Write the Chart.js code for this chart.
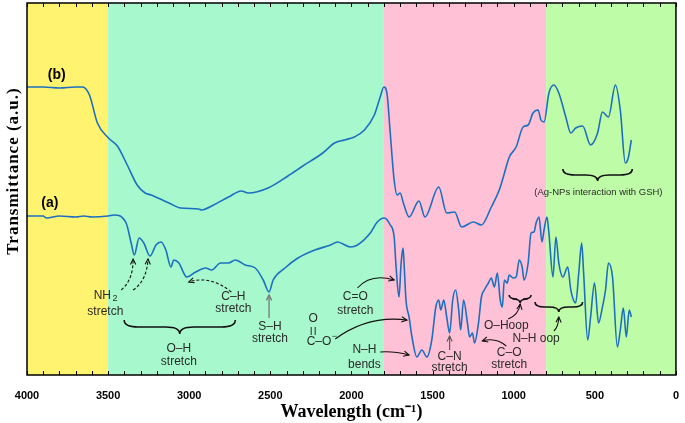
<!DOCTYPE html>
<html>
<head>
<meta charset="utf-8">
<script src="https://cdn.jsdelivr.net/npm/chart.js@4.4.1/dist/chart.umd.min.js"></script>
<style>
  html, body { margin: 0; padding: 0; background: #fff; }
  #wrap { width: 685px; height: 423px; }
</style>
</head>
<body>
<div id="wrap"><canvas id="ftir"></canvas></div>
<script>
// spectrum (b): GSH-capped Ag-NPs
const waveB = [4000, 3900, 3800, 3700, 3658, 3615, 3566, 3498, 3443, 3382, 3321, 3272, 3235, 3125, 3052, 2942, 2924, 2850, 2758, 2679, 2636, 2514, 2392, 2300, 2177, 2104, 2043, 1982, 1920, 1859, 1823, 1800, 1780, 1761, 1737, 1718, 1700, 1680, 1645, 1584, 1547, 1462, 1413, 1364, 1321, 1248, 1199, 1138, 1089, 1064, 1027, 985, 942, 911, 881, 850, 832, 813, 783, 752, 722, 679, 648, 618, 575, 526, 483, 453, 416, 373, 343, 312, 294, 275];
const transB = [288, 288, 287, 288, 288, 280, 252, 237, 229, 210, 190, 182, 180, 172, 167, 166, 165, 170, 178, 184, 182, 187, 199, 209, 222, 232, 235, 238, 245, 260, 278, 288, 280, 242, 195, 180, 182, 172, 158, 174, 158, 188, 162, 163, 148, 153, 150, 168, 185, 198, 218, 228, 248, 250, 262, 265, 255, 253, 282, 290, 282, 258, 242, 247, 249, 230, 242, 263, 258, 290, 265, 212, 217, 235];

// spectrum (a): GSH
const waveA = [4000, 3900, 3880, 3800, 3700, 3650, 3600, 3500, 3462, 3389, 3358, 3339, 3309, 3280, 3242, 3205, 3174, 3144, 3113, 3095, 3064, 3015, 2960, 2899, 2862, 2807, 2758, 2716, 2655, 2593, 2544, 2508, 2483, 2410, 2330, 2226, 2128, 2086, 2006, 1963, 1884, 1841, 1798, 1761, 1737, 1725, 1707, 1694, 1682, 1676, 1664, 1645, 1627, 1597, 1566, 1535, 1505, 1480, 1462, 1450, 1431, 1413, 1395, 1376, 1358, 1339, 1327, 1309, 1285, 1272, 1254, 1242, 1217, 1199, 1181, 1156, 1138, 1119, 1101, 1083, 1070, 1058, 1040, 1028, 1003, 985, 966, 948, 936, 911, 893, 875, 862, 844, 826, 813, 795, 783, 758, 740, 722, 697, 667, 648, 618, 599, 581, 569, 544, 526, 502, 477, 453, 434, 416, 391, 361, 343, 324, 306, 288, 275];
const transA = [159, 159, 157, 159, 158, 159, 158, 159, 160, 152, 132, 120, 137, 132, 119, 130, 133, 125, 108, 115, 112, 98, 103, 107, 105, 112, 112, 115, 110, 107, 95, 83, 95, 107, 117, 125, 130, 133, 128, 130, 142, 153, 157, 150, 138, 108, 78, 112, 127, 112, 75, 58, 38, 18, 25, 18, 35, 68, 75, 65, 75, 58, 42, 75, 85, 65, 45, 75, 52, 38, 42, 32, 52, 78, 85, 92, 97, 88, 102, 75, 68, 95, 92, 100, 97, 98, 115, 108, 95, 112, 142, 143, 152, 158, 133, 145, 158, 142, 98, 138, 112, 98, 108, 85, 72, 102, 132, 102, 35, 58, 92, 52, 68, 85, 112, 98, 28, 45, 67, 38, 65, 58];

// shaded spectral regions (cm-1)
const bandEdges = [4000, 3500, 1800, 800, 0];
const bandColors = ['#fff36f', '#a7f8cd', '#ffc1d5', '#bffca7'];

const xTicks = [4000, 3500, 3000, 2500, 2000, 1500, 1000, 500, 0];

const toXY = (w, t) => w.map((v, i) => ({ x: v, y: t[i] }));

const font = '"Liberation Sans", Arial, sans-serif';
const serif = '"Liberation Serif", "Times New Roman", serif';
const ink = '#2a2a2a';

function arrow(ctx, x1, y1, x2, y2, cx, cy, opts = {}) {
  ctx.save();
  ctx.strokeStyle = opts.color || '#111';
  ctx.lineWidth = opts.width || 1.1;
  if (opts.dash) ctx.setLineDash(opts.dash);
  ctx.beginPath();
  ctx.moveTo(x1, y1);
  ctx.quadraticCurveTo(cx, cy, x2, y2);
  ctx.stroke();
  ctx.setLineDash([]);
  const a = Math.atan2(y2 - cy, x2 - cx);
  const h = 6;
  ctx.beginPath();
  ctx.moveTo(x2 - h * Math.cos(a - 0.45), y2 - h * Math.sin(a - 0.45));
  ctx.lineTo(x2, y2);
  ctx.lineTo(x2 - h * Math.cos(a + 0.45), y2 - h * Math.sin(a + 0.45));
  ctx.stroke();
  ctx.restore();
}

function brace(ctx, x1, x2, y, d) {
  // horizontal curly brace, tip pointing down by d
  const m = (x1 + x2) / 2, q = d / 2;
  ctx.save();
  ctx.strokeStyle = '#111';
  ctx.lineWidth = 1.6;
  ctx.beginPath();
  ctx.moveTo(x1, y - q);
  ctx.quadraticCurveTo(x1, y, x1 + q * 2, y);
  ctx.lineTo(m - q * 2, y);
  ctx.quadraticCurveTo(m, y, m, y + q);
  ctx.quadraticCurveTo(m, y, m + q * 2, y);
  ctx.lineTo(x2 - q * 2, y);
  ctx.quadraticCurveTo(x2, y, x2, y - q);
  ctx.stroke();
  ctx.restore();
}

function label(ctx, txt, x, y, size, bold) {
  ctx.font = (bold ? 'bold ' : '') + size + 'px ' + font;
  ctx.fillText(txt, x, y);
}

const backdrop = {
  id: 'backdrop',
  beforeDatasetsDraw(chart) {
    const { ctx, chartArea: a, scales: { x } } = chart;
    ctx.save();
    for (let i = 0; i < bandColors.length; i++) {
      const p1 = x.getPixelForValue(bandEdges[i]);
      const p2 = x.getPixelForValue(bandEdges[i + 1]);
      ctx.fillStyle = bandColors[i];
      ctx.fillRect(p1, a.top, p2 - p1, a.bottom - a.top);
    }
    ctx.restore();
  },
  afterDatasetsDraw(chart) {
    const { ctx, chartArea: a, scales: { x, y } } = chart;
    const X = v => x.getPixelForValue(v), Y = v => y.getPixelForValue(v);
    ctx.save();
    // frame and inward ticks
    ctx.strokeStyle = '#000';
    ctx.lineWidth = 1.5;
    ctx.strokeRect(a.left, a.top, a.right - a.left, a.bottom - a.top);
    ctx.lineWidth = 1;
    ctx.beginPath();
    for (let w = 0; w <= 4000; w += 100) {
      const px = Math.round(X(w)) + 0.5;
      ctx.moveTo(px, a.top); ctx.lineTo(px, a.top + 4);
      ctx.moveTo(px, a.bottom); ctx.lineTo(px, a.bottom - 4);
    }
    ctx.stroke();

    // y axis title, spaced out like the original
    ctx.save();
    ctx.translate(14, Y(204));
    ctx.rotate(-Math.PI / 2);
    ctx.fillStyle = '#000';
    ctx.textAlign = 'center';
    ctx.textBaseline = 'middle';
    ctx.font = 'bold 17px ' + serif;
    ctx.letterSpacing = '1px';
    ctx.fillText('Transmittance (a.u.)', 0, 0);
    ctx.restore();

    ctx.fillStyle = '#000';
    ctx.textAlign = 'center';
    ctx.textBaseline = 'middle';
    label(ctx, '(b)', X(3817), Y(300), 14, true);
    label(ctx, '(a)', X(3859), Y(172), 14, true);

    ctx.fillStyle = ink;
    // NH2 stretch
    ctx.font = '12px ' + font;
    const nx = X(3517), nw = ctx.measureText('NH').width;
    ctx.fillText('NH', nx - 3, Y(79));
    ctx.font = '9px ' + font;
    ctx.fillText('2', nx + nw / 2 + 1, Y(76));
    label(ctx, 'stretch', X(3517), Y(63), 12);
    arrow(ctx, X(3419), Y(85), X(3346), Y(116), X(3345), Y(95), { dash: [3, 2] });
    arrow(ctx, X(3346), Y(85), X(3254), Y(116), X(3262), Y(94), { dash: [3, 2] });

    // O-H stretch
    brace(ctx, X(3401), X(2716), Y(48), 14);
    label(ctx, 'O\u2013H', X(3064), Y(26), 12);
    label(ctx, 'stretch', X(3064), Y(13), 12);

    // C-H stretch
    label(ctx, 'C\u2013H', X(2728), Y(78), 12);
    label(ctx, 'stretch', X(2728), Y(66), 12);
    arrow(ctx, X(2740), Y(83), X(3003), Y(93), X(2870), Y(100), { dash: [3, 2] });

    // S-H stretch
    label(ctx, 'S\u2013H', X(2502), Y(48), 12);
    label(ctx, 'stretch', X(2502), Y(36), 12);
    arrow(ctx, X(2508), Y(57), X(2508), Y(80), X(2508), Y(68), { color: '#777', width: 1.3 });

    // carboxylate
    label(ctx, 'O', X(2236), Y(56), 12);
    ctx.fillRect(X(2236) - 2.5, Y(48), 1, 8);
    ctx.fillRect(X(2236) + 1.5, Y(48), 1, 8);
    label(ctx, 'C\u2013O', X(2200), Y(33), 12);
    label(ctx, '\u2212', X(2105), Y(38), 9);
    arrow(ctx, X(2100), Y(36), X(1658), Y(55), X(1900), Y(60));

    // C=O stretch
    label(ctx, 'C=O', X(1976), Y(78), 12);
    label(ctx, 'stretch', X(1976), Y(64), 12);
    arrow(ctx, X(1963), Y(87), X(1737), Y(95), X(1880), Y(102));

    // N-H bends
    label(ctx, 'N\u2013H', X(1920), Y(25), 12);
    label(ctx, 'bends', X(1920), Y(10), 12);
    arrow(ctx, X(1823), Y(23), X(1645), Y(20), X(1740), Y(24));

    // C-N stretch
    label(ctx, 'C\u2013N', X(1395), Y(18), 12);
    label(ctx, 'stretch', X(1395), Y(7), 12);
    arrow(ctx, X(1395), Y(25), X(1395), Y(39), X(1395), Y(32), { color: '#555' });

    // C-O stretch
    label(ctx, 'C\u2013O', X(1028), Y(22), 12);
    label(ctx, 'stretch', X(1028), Y(10), 12);
    arrow(ctx, X(1046), Y(29), X(1193), Y(34), X(1110), Y(38));

    // O-H oop
    brace(ctx, X(1028), X(893), Y(76), 8);
    label(ctx, 'O\u2013Hoop', X(1046), Y(49), 12);
    arrow(ctx, X(1034), Y(56), X(960), Y(71), X(970), Y(60));

    // N-H oop
    brace(ctx, X(869), X(575), Y(68), 10);
    label(ctx, 'N\u2013H oop', X(862), Y(36), 12);
    arrow(ctx, X(752), Y(44), X(722), Y(58), X(725), Y(48));

    // Ag-NPs interaction
    brace(ctx, X(697), X(269), Y(200), 12);
    label(ctx, '(Ag-NPs interaction with GSH)', X(478), Y(183), 9.5);
    ctx.restore();
  }
};

new Chart(document.getElementById('ftir').getContext('2d'), {
  type: 'line',
  data: {
    datasets: [{
      label: '(b)',
      data: toXY(waveB, transB),
      borderColor: '#1c6fc0',
      borderWidth: 1.6,
      pointRadius: 0,
      cubicInterpolationMode: 'monotone',
      fill: false
    }, {
      label: '(a)',
      data: toXY(waveA, transA),
      borderColor: '#1c6fc0',
      borderWidth: 1.6,
      pointRadius: 0,
      cubicInterpolationMode: 'monotone',
      fill: false
    }]
  },
  options: {
    responsive: true,
    maintainAspectRatio: false,
    animation: false,
    layout: { padding: { top: 3, right: 4, left: 0, bottom: 0 } },
    plugins: { legend: { display: false }, tooltip: { enabled: false } },
    scales: {
      x: {
        type: 'linear',
        reverse: true,
        min: 0,
        max: 4000,
        afterBuildTicks: s => { s.ticks = xTicks.map(v => ({ value: v })); },
        afterFit: s => { s.height = 48; },
        grid: { display: false },
        border: { display: false },
        ticks: {
          autoSkip: false, maxRotation: 0, padding: 6, color: '#000',
          font: { family: font, size: 11, weight: 'bold' },
          callback: v => String(v)
        },
        title: {
          display: true,
          text: 'Wavelength (cm\u207B\u00B9)',
          color: '#000',
          padding: { top: 1, bottom: 0 },
          font: { family: serif, size: 18, weight: 'bold' }
        }
      },
      y: {
        min: 0,
        max: 372,
        afterFit: s => { s.width = 27; },
        grid: { display: false },
        border: { display: false },
        ticks: { display: false },
        title: { display: false }
      }
    }
  },
  plugins: [backdrop]
});
</script>
</body>
</html>
